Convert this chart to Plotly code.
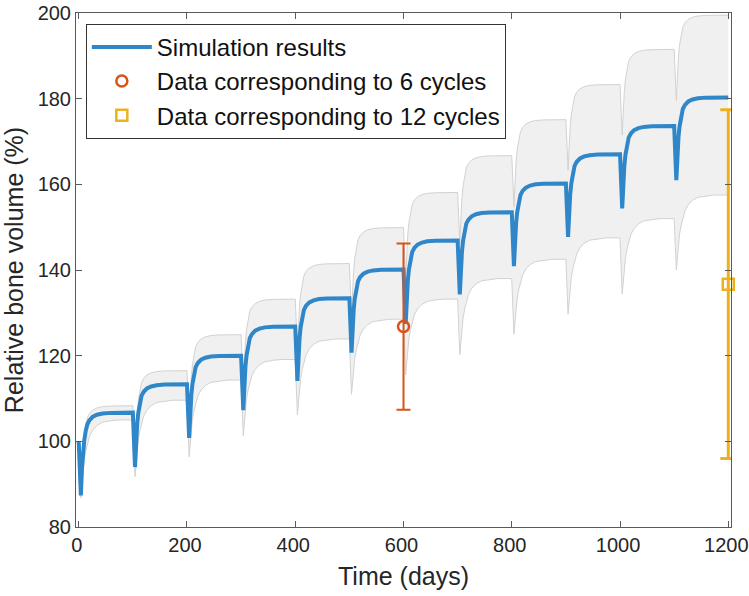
import plotly.graph_objects as go

# ---- data ----
cycle_start = [0, 100, 200, 300, 400, 500, 600, 700, 800, 900, 1000, 1100]
start_value = 100.0
dip_offset = 4  # days from cycle start to the minimum

blue_dip = [87.4, 94.0, 100.8, 107.3, 114.1, 120.7, 127.4, 134.3, 140.9, 147.7, 154.4, 161.0]
blue_plateau = [106.7, 113.3, 120.0, 126.8, 133.4, 140.1, 146.9, 153.5, 160.2, 167.0, 173.6, 180.3]

upper_dip = [88.5, 96.5, 104.5, 112.8, 121.2, 129.5, 138.0, 146.2, 154.8, 163.3, 171.5, 179.6]
upper_plateau = [108.3, 116.5, 124.9, 133.2, 141.5, 149.9, 158.1, 166.7, 175.1, 183.3, 191.5, 199.5]

lower_dip = [86.8, 91.8, 96.4, 101.3, 106.2, 111.0, 115.5, 120.2, 125.0, 129.7, 134.4, 140.0]
lower_plateau = [105.0, 109.6, 114.3, 119.1, 123.9, 128.5, 133.2, 138.0, 142.5, 147.5, 152.0, 157.5]

# recovery shape (days after the minimum, fraction recovered)
recovery_days = [0, 2, 4, 6, 9, 12, 16, 22, 30, 40, 55, 70, 95]
recovery_fast = [0, 0.32, 0.52, 0.65, 0.78, 0.86, 0.91, 0.95, 0.975, 0.99, 0.997, 1.0, 1.0]
recovery_slow = [0, 0.20, 0.36, 0.48, 0.60, 0.70, 0.79, 0.87, 0.93, 0.97, 0.99, 1.0, 1.0]

end_day = 1200

data6_x = [600]
data6_y = [126.8]
data6_err = [19.4]

data12_x = [1200]
data12_y = [136.7]
data12_err = [40.7]

x_ticks = [0, 200, 400, 600, 800, 1000, 1200]
y_ticks = [80, 100, 120, 140, 160, 180, 200]


def build(dips, plateaus, frac):
    t, y = [], []
    prev = start_value
    for k, t0 in enumerate(cycle_start):
        t.append(t0)
        y.append(prev)
        for d, f in zip(recovery_days, frac):
            t.append(t0 + dip_offset + d)
            y.append(dips[k] + (plateaus[k] - dips[k]) * f)
        prev = plateaus[k]
    t.append(end_day)
    y.append(plateaus[-1])
    return t, y


bt, by = build(blue_dip, blue_plateau, recovery_fast)
ut, uy = build(upper_dip, upper_plateau, recovery_fast)
lt, ly = build(lower_dip, lower_plateau, recovery_slow)

FONT = "Arial, Liberation Sans, sans-serif"
BLUE = "#2f86c8"
ORANGE = "#D95319"
YELLOW = "#EDB120"
TXT = "#262626"

fig = go.Figure()
fig.add_trace(go.Scatter(x=ut, y=uy, mode="lines", line=dict(color="#d2d2d2", width=1),
                         showlegend=False, hoverinfo="skip"))
fig.add_trace(go.Scatter(x=lt, y=ly, mode="lines", line=dict(color="#d2d2d2", width=1),
                         fill="tonexty", fillcolor="#f0f0f0", showlegend=False, hoverinfo="skip"))
fig.add_trace(go.Scatter(x=bt, y=by, mode="lines", line=dict(color=BLUE, width=4),
                         name="Simulation results"))
fig.add_trace(go.Scatter(x=data6_x, y=data6_y, mode="markers",
                         name="Data corresponding to 6 cycles",
                         marker=dict(symbol="circle-open", size=11, color=ORANGE,
                                     line=dict(width=2.5, color=ORANGE)),
                         error_y=dict(type="data", array=data6_err, color=ORANGE,
                                      thickness=2, width=7),
                         cliponaxis=False))
fig.add_trace(go.Scatter(x=data12_x, y=data12_y, mode="markers",
                         name="Data corresponding to 12 cycles",
                         marker=dict(symbol="square-open", size=11, color=YELLOW,
                                     line=dict(width=2.5, color=YELLOW)),
                         error_y=dict(type="data", array=data12_err, color=YELLOW,
                                      thickness=3, width=8),
                         cliponaxis=False))

axis_common = dict(showline=True, linecolor="#5a5a5a", linewidth=1, mirror="ticks",
                   ticks="inside", ticklen=6, tickcolor="#5a5a5a", showgrid=False,
                   zeroline=False, automargin=False, ticklabeloverflow="allow",
                   tickfont=dict(family=FONT, size=20, color=TXT))

fig.update_layout(
    width=749, height=596,
    margin=dict(l=76, r=18, t=13, b=69),
    paper_bgcolor="white", plot_bgcolor="white",
    font=dict(family=FONT, color=TXT),
    xaxis=dict(range=[-5, 1205], tickvals=x_ticks, ticklabelshift=-2,
               title=dict(text="Time (days)", font=dict(family=FONT, size=25, color=TXT),
                          standoff=12),
               **axis_common),
    yaxis=dict(range=[80, 200], tickvals=y_ticks,
               title=dict(text="Relative bone volume (%)",
                          font=dict(family=FONT, size=25, color=TXT), standoff=11),
               **axis_common),
    legend=dict(x=0.015, y=0.979, xanchor="left", yanchor="top",
                bgcolor="white", bordercolor="#333333", borderwidth=1,
                font=dict(family=FONT, size=24, color="#111111"), itemwidth=60,
                traceorder="normal"),
    showlegend=True,
)

fig.write_html("out.html",
               config={"displayModeBar": False},
               post_script="document.body.style.margin='0';document.body.style.overflow='hidden';")
